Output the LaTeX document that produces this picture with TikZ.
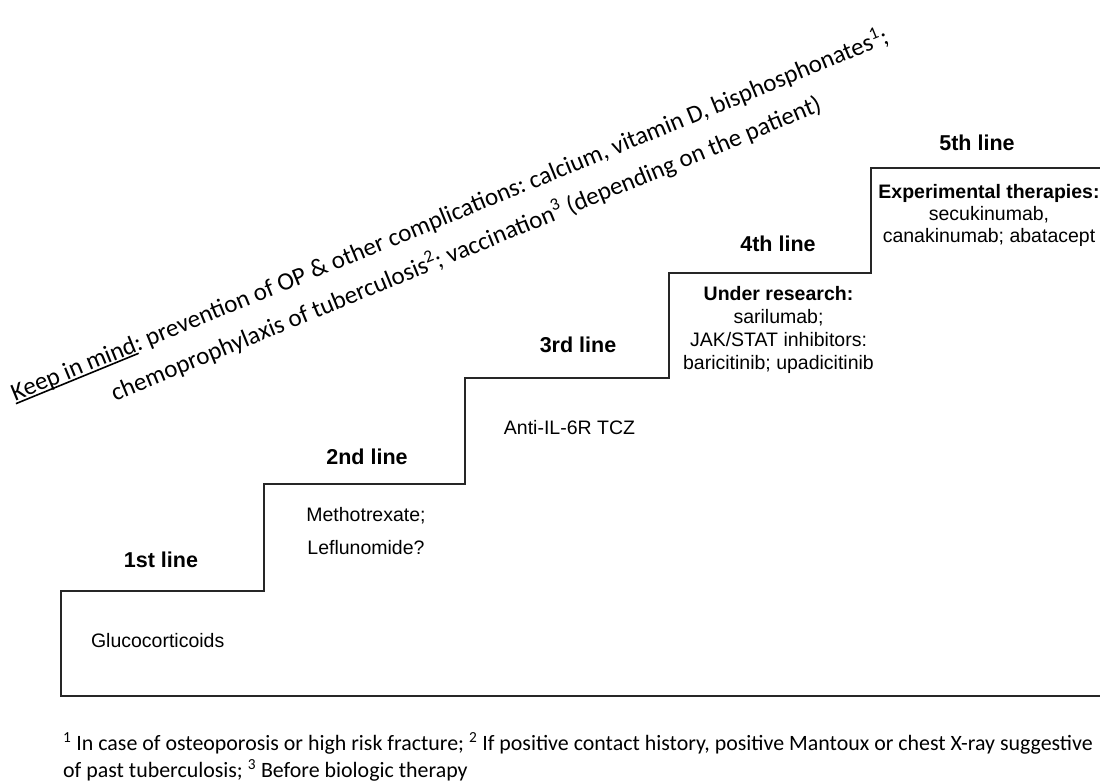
\documentclass[tikz,border=0pt]{standalone}
\usepackage{fontspec}
\setmainfont{Liberation Sans}
\newfontfamily\calibri{Carlito}
\newcommand\myul[1]{\setbox0\hbox{#1}\rlap{\rule[-3.2pt]{\wd0}{1.6pt}}\box0}
\begin{document}
\frenchspacing
\begin{tikzpicture}[x=1pt,y=-1pt,
  stairline/.style={line width=2pt, draw=black!85, line join=miter},
  lab/.style={font=\fontsize{21.5}{25}\selectfont\bfseries, inner sep=0pt},
  txt/.style={font=\fontsize{19.5}{23.3}\selectfont, inner sep=0pt},
  rot/.style={font=\calibri\fontsize{25}{30}\selectfont, inner sep=0pt, anchor=base, rotate=22.3},
  fn/.style={font=\calibri\fontsize{21.9}{26}\selectfont, inner sep=0pt, anchor=base west}]
\useasboundingbox (0,0) rectangle (1100,782);
\fill[white] (0,0) rectangle (1100,782);
% stairs
\draw[stairline] (1102,695.5) -- (61,695.5) -- (61,590.5) -- (264,590.5) -- (264,484)
  -- (464.5,484) -- (464.5,378) -- (669,378) -- (669,273) -- (871,273) -- (871,168) -- (1102,168);
% step labels
\node[lab] (l1) at (161,560) {1st line};
\node[lab] (l2) at (367,457) {2nd line};
\node[lab] (l3) at (578,345) {3rd line};
\node[lab] (l4) at (778,244) {4th line};
\node[lab] (l5) at (977,143) {5th line};
% contents
\node[txt] (c1) at (157.7,640.7) {Glucocorticoids};
\node[txt, align=center, font=\fontsize{19.5}{33}\selectfont] (c2) at (366,530.6) {Methotrexate;\\Leflunomide?};
\node[txt] (c3) at (569.5,428) {Anti-IL-6R TCZ};
\node[txt, align=center] (c4) at (778.5,330) {\textbf{Under research:}\\sarilumab;\\JAK/STAT inhibitors:\\baricitinib; upadicitinib};
\node[txt, align=center, font=\fontsize{19.5}{22}\selectfont] (c5) at (989,215.3) {\textbf{Experimental therapies:}\\secukinumab,\\canakinumab; abatacept};
% rotated reminder
\node[rot] (k1) at (452.5,222) {\myul{Keep in mind}: prevention of OP \& other complications: calcium, vitamin D, bisphosphonates\textsuperscript{1};};
\node[rot] (k2) at (469,256) {chemoprophylaxis of tuberculosis\textsuperscript{2}; vaccination\textsuperscript{3} (depending on the patient)};
% footnotes
\node[fn] (f1) at (63,750) {\textsuperscript{1} In case of osteoporosis or high risk fracture; \textsuperscript{2} If positive contact history, positive Mantoux or chest X-ray suggestive};
\node[fn] (f2) at (63,777) {of past tuberculosis; \textsuperscript{3} Before biologic therapy};
\end{tikzpicture}
\end{document}
